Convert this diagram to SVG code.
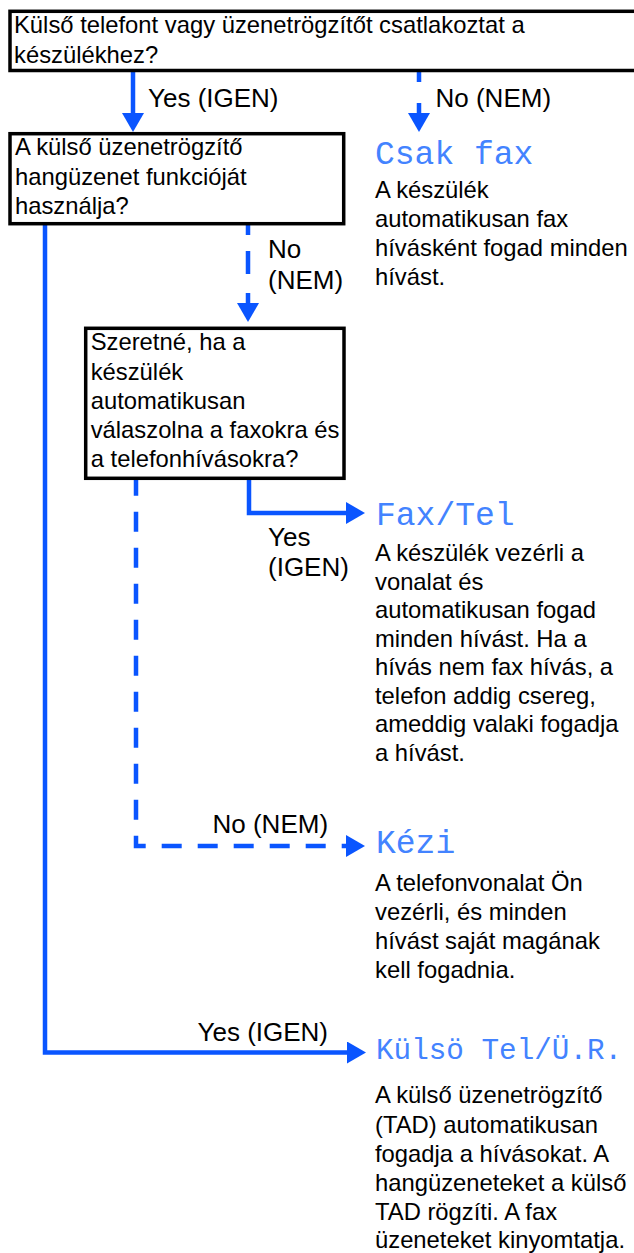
<svg xmlns="http://www.w3.org/2000/svg" width="634" height="1253" viewBox="0 0 634 1253">
<style>
  .box { fill: #ffffff; stroke: #000000; stroke-width: 3.5; }
  .t { font-family: "Liberation Sans", Arial, Helvetica, sans-serif; font-size: 23.8px; fill: #000000; }
  .lbl { font-family: "Liberation Sans", Arial, Helvetica, sans-serif; font-size: 26px; fill: #000000; }
  .ttl { font-family: "Liberation Mono", "Courier New", monospace; font-size: 33px; fill: #4383ff; }
  .conn { fill: none; stroke: #0a55ff; stroke-width: 4.5; }
</style>
<defs>
  <marker id="ah" viewBox="0 0 19 22" refX="0" refY="11" markerWidth="19" markerHeight="22" markerUnits="userSpaceOnUse" orient="auto">
    <path d="M0,0 L19,11 L0,22 Z" fill="#0a55ff" stroke="none"/>
  </marker>
</defs>
<rect width="634" height="1253" fill="#ffffff"/>

<g id="connectors">
  <path class="conn" d="M133,72 V113" marker-end="url(#ah)"/>
  <path class="conn" d="M419,72 V113" stroke-dasharray="10 21" marker-end="url(#ah)"/>
  <path class="conn" d="M248,225 V303" stroke-dasharray="10 16 23 19 10 100" marker-end="url(#ah)"/>
  <path class="conn" d="M249,479 V513 H346" marker-end="url(#ah)"/>
  <path class="conn" d="M136,480 V846 H346" stroke-dasharray="20 16" stroke-dashoffset="4.3" marker-end="url(#ah)"/>
  <path class="conn" d="M45,225 V1052.5 H347" marker-end="url(#ah)"/>
</g>

<g id="labels">
  <text class="lbl" x="148" y="107">Yes (IGEN)</text>
  <text class="lbl" x="435.5" y="107">No (NEM)</text>
  <text class="lbl" x="268" y="258">No</text>
  <text class="lbl" x="268" y="289">(NEM)</text>
  <text class="lbl" x="268" y="546">Yes</text>
  <text class="lbl" x="268" y="576">(IGEN)</text>
  <text class="lbl" x="212.5" y="832.5">No (NEM)</text>
  <text class="lbl" x="197.5" y="1040.5">Yes (IGEN)</text>
</g>

<g id="q1">
  <rect class="box" x="10" y="11.3" width="640" height="59.2"/>
  <text class="t" x="14" y="33.3">Külső telefont vagy üzenetrögzítőt csatlakoztat a</text>
  <text class="t" x="14" y="62.8">készülékhez?</text>
</g>

<g id="q2">
  <rect class="box" x="10" y="133.7" width="333.7" height="90"/>
  <text class="t" x="15" y="155">A külső üzenetrögzítő</text>
  <text class="t" x="15" y="185">hangüzenet funkcióját</text>
  <text class="t" x="15" y="214.3">használja?</text>
</g>

<g id="q3">
  <rect class="box" x="85.7" y="328.3" width="258.3" height="150"/>
  <text class="t" x="90.7" y="350">Szeretné, ha a</text>
  <text class="t" x="90.7" y="379.5">készülék</text>
  <text class="t" x="90.7" y="409">automatikusan</text>
  <text class="t" x="90.7" y="438">válaszolna a faxokra és</text>
  <text class="t" x="90.7" y="467">a telefonhívásokra?</text>
</g>

<g id="csak-fax">
  <text class="ttl" x="375" y="164">Csak fax</text>
  <text class="t" x="375" y="198">A készülék</text>
  <text class="t" x="375" y="227">automatikusan fax</text>
  <text class="t" x="375" y="256">hívásként fogad minden</text>
  <text class="t" x="375" y="284.5">hívást.</text>
</g>

<g id="fax-tel">
  <text class="ttl" x="376" y="525">Fax/Tel</text>
  <text class="t" x="375" y="561">A készülék vezérli a</text>
  <text class="t" x="375" y="589.5">vonalat és</text>
  <text class="t" x="375" y="618">automatikusan fogad</text>
  <text class="t" x="375" y="646.5">minden hívást. Ha a</text>
  <text class="t" x="375" y="675">hívás nem fax hívás, a</text>
  <text class="t" x="375" y="703.5">telefon addig csereg,</text>
  <text class="t" x="375" y="732">ameddig valaki fogadja</text>
  <text class="t" x="375" y="760.5">a hívást.</text>
</g>

<g id="kezi">
  <text class="ttl" x="376" y="853.3">Kézi</text>
  <text class="t" x="375" y="891">A telefonvonalat Ön</text>
  <text class="t" x="375" y="920">vezérli, és minden</text>
  <text class="t" x="375" y="949">hívást saját magának</text>
  <text class="t" x="375" y="978">kell fogadnia.</text>
</g>

<g id="kulso-tel">
  <text class="ttl" x="376" y="1059" style="font-size:29.3px">Külsö Tel/Ü.R.</text>
  <text class="t" x="375" y="1103">A külső üzenetrögzítő</text>
  <text class="t" x="375" y="1133">(TAD) automatikusan</text>
  <text class="t" x="375" y="1162">fogadja a hívásokat. A</text>
  <text class="t" x="375" y="1191">hangüzeneteket a külső</text>
  <text class="t" x="375" y="1220">TAD rögzíti. A fax</text>
  <text class="t" x="375" y="1248">üzeneteket kinyomtatja.</text>
</g>
</svg>
